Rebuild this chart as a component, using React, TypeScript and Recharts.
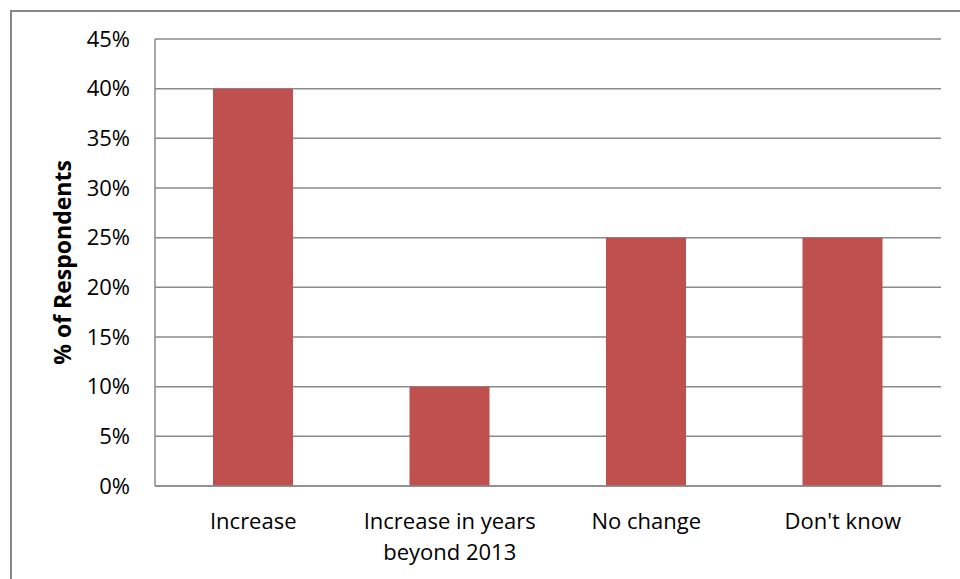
import React from "react";
import { BarChart, Bar, XAxis, YAxis, CartesianGrid, Label } from "recharts";

const categories = ["Increase", "Increase in years\nbeyond 2013", "No change", "Don't know"];
const values = [40, 10, 25, 25];
const yTicks = [0, 5, 10, 15, 20, 25, 30, 35, 40, 45];
const yAxisTitle = "% of Respondents";

const data = categories.map((c, i) => ({ name: c, value: values[i] }));

const FONT = "'Open Sans', sans-serif";

const XTick = (props: any) => {
  const { x, y, payload } = props;
  const lines = String(payload.value).split("\n");
  return (
    <text x={x} y={y} textAnchor="middle" fontFamily={FONT} fontSize={22} fill="#000">
      {lines.map((l: string, i: number) => (
        <tspan key={i} x={x} dy={i === 0 ? 43 : 31}>
          {l}
        </tspan>
      ))}
    </text>
  );
};

const YTitle = (props: any) => {
  const vb = props.viewBox || {};
  const cx = vb.x + 52;
  const cy = vb.y + vb.height / 2;
  return (
    <text
      x={cx}
      y={cy}
      transform={`rotate(-90 ${cx} ${cy})`}
      textAnchor="middle"
      dominantBaseline="central"
      fontFamily={FONT}
      fontWeight="bold"
      fontSize={23}
      fill="#000"
    >
      {yAxisTitle}
    </text>
  );
};

export default function App() {
  return (
    <div style={{ position: "absolute", left: 0, top: 0, width: 960, height: 579, background: "#fff", overflow: "hidden" }}>
      <div
        style={{
          position: "absolute",
          left: 10,
          top: 10,
          width: 980,
          height: 600,
          borderLeft: "2px solid #888",
          borderTop: "2px solid #888",
          boxSizing: "border-box",
        }}
      />
      <div style={{ position: "absolute", left: 0, top: 0 }}>
        <BarChart width={960} height={579} data={data} margin={{ top: 39, right: 19, bottom: 0, left: 10 }}>
          <CartesianGrid vertical={false} stroke="#8a8a8a" strokeWidth={1.5} />
          <XAxis
            dataKey="name"
            tick={<XTick />}
            tickLine={false}
            tickSize={0}
            tickMargin={0}
            axisLine={{ stroke: "#8a8a8a", strokeWidth: 1.5 }}
            interval={0}
            height={93}
          />
          <YAxis
            width={145}
            domain={[0, 45]}
            ticks={yTicks}
            tickFormatter={(v: number) => `${v}%`}
            tick={{ fontFamily: FONT, fontSize: 22, fill: "#000" }}
            tickLine={false}
            tickSize={0}
            tickMargin={25}
            axisLine={{ stroke: "#8a8a8a", strokeWidth: 1.5 }}
            interval={0}
          >
            <Label content={<YTitle />} />
          </YAxis>
          <Bar dataKey="value" fill="#C0504D" barSize={80} isAnimationActive={false} />
        </BarChart>
      </div>
    </div>
  );
}
